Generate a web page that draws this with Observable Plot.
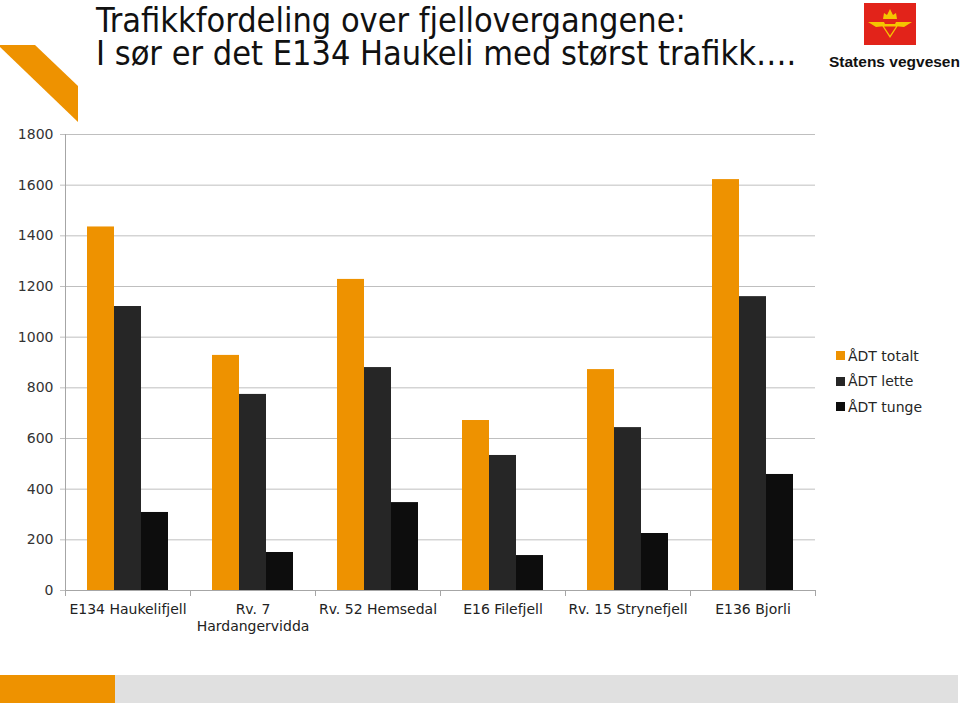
<!DOCTYPE html>
<html><head><meta charset="utf-8">
<script src="https://cdn.jsdelivr.net/npm/d3@7"></script>
<script src="https://cdn.jsdelivr.net/npm/@observablehq/plot@0.6"></script>
<style>
body{margin:0;background:#fff;}
#page{position:relative;width:960px;height:709px;overflow:hidden;font-family:"DejaVu Sans",sans-serif;background:#fff;}
#deco{position:absolute;left:0;top:0;}
#chart{position:absolute;left:0;top:0;}
.tl{position:absolute;left:96px;font-family:"DejaVu Sans Condensed","DejaVu Sans",sans-serif;font-size:34px;line-height:33px;height:33px;color:#111;white-space:nowrap;}
#legend{position:absolute;left:836px;top:343px;font-size:14px;color:#262626;}
#legend .it{height:25.5px;display:flex;align-items:center;}
#legend .sw{width:9px;height:9px;margin-right:3px;}
#logoText{position:absolute;left:829px;top:53px;font-family:"Liberation Sans",Arial,sans-serif;font-weight:bold;font-size:15.5px;color:#111;white-space:nowrap;}
</style></head><body>
<div id="page">
<svg id="deco" width="960" height="709">
  <polygon points="0,45 35,45 78,86 78,122 0,47" fill="#EE9200"/>
  <rect x="864" y="3" width="52" height="42" fill="#E2231A"/>
  <path d="M881,24 L899,24 L890,38 Z M884,26.5 L890,35.5 L896,26.5 Z" fill="#F5C400" fill-rule="evenodd"/>
  <path d="M868,22 L884,22 L886,26 L876,27 Z M912,22 L896,22 L894,26 L904,27 Z" fill="#F5C400"/>
  <path d="M883,19 L884,13 L887,15 L890,9 L893,15 L896,13 L897,19 Z" fill="#F5C400"/>
  <rect x="0" y="675" width="115" height="28" fill="#EE9200"/>
  <rect x="115" y="675" width="843" height="28" fill="#E0E0E0"/>
</svg>
<div class="tl" style="top:4px">Trafikkfordeling over fjellovergangene:</div>
<div class="tl" style="top:37px">I sør er det E134 Haukeli med størst trafikk….</div>
<div id="logoText">Statens vegvesen</div>
<div id="chart"></div>
<div id="legend"></div>
</div>
<script>
const categories = ["E134 Haukelifjell","Rv. 7\nHardangervidda","Rv. 52 Hemsedal","E16 Filefjell","Rv. 15 Strynefjell","E136 Bjorli"];
const series = ["ÅDT totalt","ÅDT lette","ÅDT tunge"];
const totalt = [1435,928,1228,671,872,1622];
const lette = [1121,774,880,533,643,1160];
const tunge = [308,150,347,138,225,458];
const yTicks = [0,200,400,600,800,1000,1200,1400,1600,1800];
const colors = ["#EE9200","#262626","#0D0D0D"];

const values = [totalt, lette, tunge];
const data = [];
categories.forEach((c,i)=>series.forEach((s,j)=>data.push({category:c, series:s, value:values[j][i]})));

const axisColor = "#A6A6A6";
const chart = Plot.plot({
  width:960, height:709,
  marginLeft:65, marginRight:145, marginTop:134, marginBottom:119,
  style:{fontFamily:"DejaVu Sans, sans-serif", background:"transparent"},
  fx:{domain:categories, padding:0, label:null},
  x:{domain:series, paddingInner:0, paddingOuter:0.75, axis:null},
  y:{domain:[0,1800], label:null},
  color:{domain:series, range:colors},
  marks:[
    Plot.gridY(yTicks,{stroke:"#BFBFBF", strokeOpacity:1}),
    Plot.axisY(yTicks,{tickSize:5, tickPadding:7, stroke:"#BFBFBF", fontSize:14, color:"#333", label:null, tickFormat:d=>String(d)}),
    Plot.frame({anchor:"left", facetAnchor:"left", stroke:axisColor}),
    Plot.barY(data,{fx:"category", x:"series", y:"value", fill:"series"}),
    Plot.ruleY([0],{stroke:axisColor}),
    Plot.frame({anchor:"left", insetTop:456, insetBottom:-5, stroke:axisColor}),
    Plot.frame({anchor:"right", facetAnchor:"right", insetTop:456, insetBottom:-5, stroke:axisColor}),
    Plot.axisFx({anchor:"bottom", tickSize:0, tickPadding:11, fontSize:14, color:"#222", label:null, lineHeight:1.25})
  ]
});
document.getElementById("chart").appendChild(chart);

const lg = document.getElementById("legend");
series.forEach((s,j)=>{
  const d = document.createElement("div"); d.className="it";
  const sw = document.createElement("div"); sw.className="sw"; sw.style.background = colors[j];
  const t = document.createElement("span"); t.textContent = s;
  d.appendChild(sw); d.appendChild(t); lg.appendChild(d);
});
</script>
</body></html>
